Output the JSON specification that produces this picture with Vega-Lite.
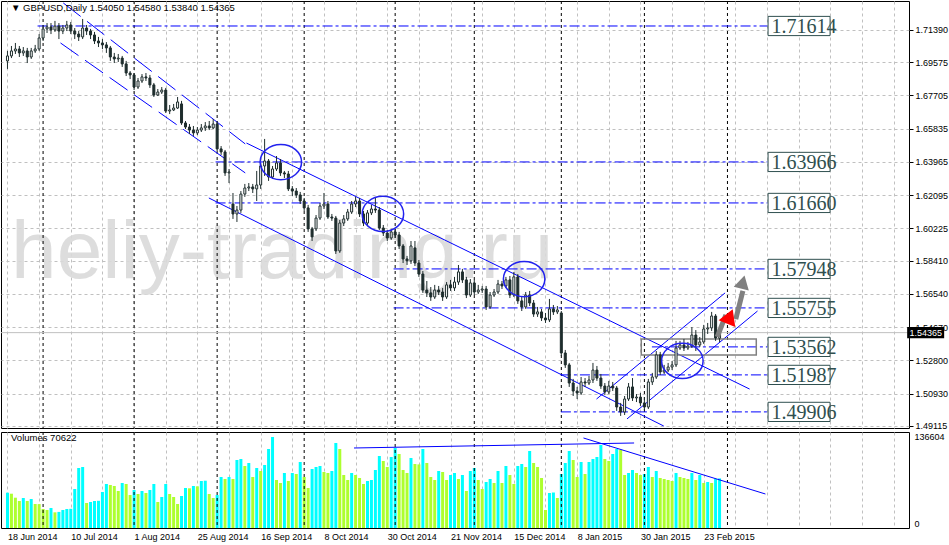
{
"$schema": "https://vega.github.io/schema/vega-lite/v6.json",
"padding": 0,
"background": "white",
"spacing": 4,
"bounds": "flush",
"config": {"view": {"stroke": "#000000", "strokeWidth": 1}, "font": "Liberation Sans", "axis": {"labelFont": "Liberation Sans"}},
"datasets": {
"ohlc": [
{"i":0,"o":1.6965,"h":1.7021,"l":1.6920,"c":1.6993},
{"i":1,"o":1.6993,"h":1.7049,"l":1.6981,"c":1.7021},
{"i":2,"o":1.7021,"h":1.7066,"l":1.7004,"c":1.7032},
{"i":3,"o":1.7032,"h":1.7049,"l":1.6987,"c":1.7010},
{"i":4,"o":1.7010,"h":1.7043,"l":1.6993,"c":1.7021},
{"i":5,"o":1.7021,"h":1.7038,"l":1.6953,"c":1.6987},
{"i":6,"o":1.6987,"h":1.7038,"l":1.6976,"c":1.7021},
{"i":7,"o":1.7021,"h":1.7055,"l":1.7010,"c":1.7032},
{"i":8,"o":1.7032,"h":1.7116,"l":1.7021,"c":1.7094},
{"i":9,"o":1.7094,"h":1.7167,"l":1.7077,"c":1.7145},
{"i":10,"o":1.7145,"h":1.7178,"l":1.7122,"c":1.7156},
{"i":11,"o":1.7156,"h":1.7178,"l":1.7116,"c":1.7139},
{"i":12,"o":1.7139,"h":1.7190,"l":1.7128,"c":1.7161},
{"i":13,"o":1.7161,"h":1.7178,"l":1.7088,"c":1.7133},
{"i":14,"o":1.7133,"h":1.7167,"l":1.7116,"c":1.7150},
{"i":15,"o":1.7150,"h":1.7190,"l":1.7133,"c":1.7167},
{"i":16,"o":1.7167,"h":1.7184,"l":1.7116,"c":1.7133},
{"i":17,"o":1.7133,"h":1.7150,"l":1.7088,"c":1.7116},
{"i":18,"o":1.7116,"h":1.7133,"l":1.7077,"c":1.7100},
{"i":19,"o":1.7100,"h":1.7201,"l":1.7088,"c":1.7150},
{"i":20,"o":1.7150,"h":1.7167,"l":1.7111,"c":1.7133},
{"i":21,"o":1.7133,"h":1.7145,"l":1.7088,"c":1.7111},
{"i":22,"o":1.7111,"h":1.7128,"l":1.7060,"c":1.7077},
{"i":23,"o":1.7077,"h":1.7100,"l":1.7043,"c":1.7066},
{"i":24,"o":1.7066,"h":1.7088,"l":1.7032,"c":1.7055},
{"i":25,"o":1.7055,"h":1.7071,"l":1.7010,"c":1.7038},
{"i":26,"o":1.7038,"h":1.7049,"l":1.6965,"c":1.6987},
{"i":27,"o":1.6987,"h":1.7010,"l":1.6953,"c":1.6976},
{"i":28,"o":1.6976,"h":1.7004,"l":1.6959,"c":1.6981},
{"i":29,"o":1.6981,"h":1.6993,"l":1.6931,"c":1.6948},
{"i":30,"o":1.6948,"h":1.6965,"l":1.6880,"c":1.6897},
{"i":31,"o":1.6897,"h":1.6908,"l":1.6863,"c":1.6886},
{"i":32,"o":1.6886,"h":1.6897,"l":1.6801,"c":1.6818},
{"i":33,"o":1.6818,"h":1.6869,"l":1.6807,"c":1.6852},
{"i":34,"o":1.6852,"h":1.6891,"l":1.6841,"c":1.6875},
{"i":35,"o":1.6875,"h":1.6897,"l":1.6852,"c":1.6869},
{"i":36,"o":1.6869,"h":1.6886,"l":1.6813,"c":1.6830},
{"i":37,"o":1.6830,"h":1.6841,"l":1.6762,"c":1.6773},
{"i":38,"o":1.6773,"h":1.6807,"l":1.6768,"c":1.6790},
{"i":39,"o":1.6790,"h":1.6818,"l":1.6779,"c":1.6801},
{"i":40,"o":1.6801,"h":1.6813,"l":1.6672,"c":1.6683},
{"i":41,"o":1.6683,"h":1.6717,"l":1.6666,"c":1.6689},
{"i":42,"o":1.6689,"h":1.6723,"l":1.6683,"c":1.6700},
{"i":43,"o":1.6700,"h":1.6762,"l":1.6695,"c":1.6734},
{"i":44,"o":1.6723,"h":1.6740,"l":1.6605,"c":1.6616},
{"i":45,"o":1.6616,"h":1.6627,"l":1.6582,"c":1.6593},
{"i":46,"o":1.6593,"h":1.6610,"l":1.6554,"c":1.6576},
{"i":47,"o":1.6576,"h":1.6599,"l":1.6543,"c":1.6560},
{"i":48,"o":1.6560,"h":1.6593,"l":1.6548,"c":1.6576},
{"i":49,"o":1.6576,"h":1.6610,"l":1.6565,"c":1.6588},
{"i":50,"o":1.6588,"h":1.6621,"l":1.6571,"c":1.6599},
{"i":51,"o":1.6599,"h":1.6627,"l":1.6576,"c":1.6588},
{"i":52,"o":1.6588,"h":1.6638,"l":1.6582,"c":1.6610},
{"i":53,"o":1.6610,"h":1.6627,"l":1.6458,"c":1.6470},
{"i":54,"o":1.6470,"h":1.6486,"l":1.6436,"c":1.6453},
{"i":55,"o":1.6453,"h":1.6464,"l":1.6318,"c":1.6335},
{"i":56,"o":1.6335,"h":1.6357,"l":1.6278,"c":1.6340},
{"i":57,"o":1.6160,"h":1.6222,"l":1.6076,"c":1.6104},
{"i":58,"o":1.6104,"h":1.6149,"l":1.6059,"c":1.6126},
{"i":59,"o":1.6126,"h":1.6233,"l":1.6110,"c":1.6216},
{"i":60,"o":1.6216,"h":1.6273,"l":1.6200,"c":1.6250},
{"i":61,"o":1.6250,"h":1.6278,"l":1.6233,"c":1.6256},
{"i":62,"o":1.6256,"h":1.6273,"l":1.6222,"c":1.6245},
{"i":63,"o":1.6245,"h":1.6346,"l":1.6177,"c":1.6267},
{"i":64,"o":1.6267,"h":1.6391,"l":1.6245,"c":1.6374},
{"i":65,"o":1.6374,"h":1.6526,"l":1.6318,"c":1.6402},
{"i":66,"o":1.6402,"h":1.6413,"l":1.6290,"c":1.6312},
{"i":67,"o":1.6312,"h":1.6374,"l":1.6301,"c":1.6357},
{"i":68,"o":1.6357,"h":1.6430,"l":1.6346,"c":1.6391},
{"i":69,"o":1.6391,"h":1.6413,"l":1.6318,"c":1.6335},
{"i":70,"o":1.6335,"h":1.6346,"l":1.6306,"c":1.6329},
{"i":71,"o":1.6329,"h":1.6346,"l":1.6233,"c":1.6245},
{"i":72,"o":1.6245,"h":1.6261,"l":1.6205,"c":1.6233},
{"i":73,"o":1.6233,"h":1.6250,"l":1.6194,"c":1.6211},
{"i":74,"o":1.6211,"h":1.6228,"l":1.6160,"c":1.6177},
{"i":75,"o":1.6177,"h":1.6194,"l":1.6121,"c":1.6138},
{"i":76,"o":1.6138,"h":1.6155,"l":1.6003,"c":1.6020},
{"i":77,"o":1.6020,"h":1.6031,"l":1.5952,"c":1.5975},
{"i":78,"o":1.6020,"h":1.6098,"l":1.6008,"c":1.6081},
{"i":79,"o":1.6081,"h":1.6166,"l":1.6070,"c":1.6149},
{"i":80,"o":1.6149,"h":1.6222,"l":1.6132,"c":1.6160},
{"i":81,"o":1.6160,"h":1.6177,"l":1.6076,"c":1.6087},
{"i":82,"o":1.6087,"h":1.6104,"l":1.6065,"c":1.6081},
{"i":83,"o":1.6081,"h":1.6093,"l":1.5879,"c":1.5896},
{"i":84,"o":1.5896,"h":1.6070,"l":1.5885,"c":1.6053},
{"i":85,"o":1.6053,"h":1.6098,"l":1.6036,"c":1.6076},
{"i":86,"o":1.6076,"h":1.6132,"l":1.6065,"c":1.6115},
{"i":87,"o":1.6115,"h":1.6177,"l":1.6104,"c":1.6160},
{"i":88,"o":1.6160,"h":1.6200,"l":1.6143,"c":1.6177},
{"i":89,"o":1.6177,"h":1.6194,"l":1.6087,"c":1.6104},
{"i":90,"o":1.6104,"h":1.6121,"l":1.6036,"c":1.6053},
{"i":91,"o":1.6053,"h":1.6126,"l":1.6042,"c":1.6110},
{"i":92,"o":1.6110,"h":1.6155,"l":1.6098,"c":1.6132},
{"i":93,"o":1.6132,"h":1.6194,"l":1.6110,"c":1.6126},
{"i":94,"o":1.6126,"h":1.6143,"l":1.6014,"c":1.6025},
{"i":95,"o":1.6025,"h":1.6042,"l":1.5980,"c":1.5997},
{"i":96,"o":1.5997,"h":1.6014,"l":1.5952,"c":1.5969},
{"i":97,"o":1.5969,"h":1.6020,"l":1.5958,"c":1.6003},
{"i":98,"o":1.6003,"h":1.6020,"l":1.5969,"c":1.5986},
{"i":99,"o":1.5986,"h":1.6003,"l":1.5907,"c":1.5924},
{"i":100,"o":1.5924,"h":1.5935,"l":1.5828,"c":1.5851},
{"i":101,"o":1.5851,"h":1.5868,"l":1.5817,"c":1.5840},
{"i":102,"o":1.5840,"h":1.5952,"l":1.5823,"c":1.5924},
{"i":103,"o":1.5913,"h":1.5952,"l":1.5811,"c":1.5828},
{"i":104,"o":1.5828,"h":1.5845,"l":1.5750,"c":1.5766},
{"i":105,"o":1.5766,"h":1.5783,"l":1.5660,"c":1.5676},
{"i":106,"o":1.5676,"h":1.5727,"l":1.5637,"c":1.5660},
{"i":107,"o":1.5660,"h":1.5693,"l":1.5615,"c":1.5637},
{"i":108,"o":1.5637,"h":1.5705,"l":1.5626,"c":1.5676},
{"i":109,"o":1.5676,"h":1.5699,"l":1.5648,"c":1.5665},
{"i":110,"o":1.5665,"h":1.5688,"l":1.5615,"c":1.5637},
{"i":111,"o":1.5637,"h":1.5721,"l":1.5626,"c":1.5705},
{"i":112,"o":1.5705,"h":1.5733,"l":1.5671,"c":1.5688},
{"i":113,"o":1.5688,"h":1.5750,"l":1.5671,"c":1.5721},
{"i":114,"o":1.5721,"h":1.5817,"l":1.5705,"c":1.5778},
{"i":115,"o":1.5778,"h":1.5795,"l":1.5716,"c":1.5733},
{"i":116,"o":1.5733,"h":1.5750,"l":1.5631,"c":1.5648},
{"i":117,"o":1.5648,"h":1.5738,"l":1.5637,"c":1.5716},
{"i":118,"o":1.5716,"h":1.5733,"l":1.5648,"c":1.5665},
{"i":119,"o":1.5665,"h":1.5705,"l":1.5654,"c":1.5676},
{"i":120,"o":1.5676,"h":1.5699,"l":1.5660,"c":1.5682},
{"i":121,"o":1.5682,"h":1.5699,"l":1.5564,"c":1.5581},
{"i":122,"o":1.5581,"h":1.5665,"l":1.5570,"c":1.5648},
{"i":123,"o":1.5648,"h":1.5682,"l":1.5637,"c":1.5665},
{"i":124,"o":1.5665,"h":1.5733,"l":1.5654,"c":1.5710},
{"i":125,"o":1.5710,"h":1.5727,"l":1.5682,"c":1.5699},
{"i":126,"o":1.5699,"h":1.5750,"l":1.5688,"c":1.5733},
{"i":127,"o":1.5733,"h":1.5755,"l":1.5631,"c":1.5648},
{"i":128,"o":1.5648,"h":1.5778,"l":1.5637,"c":1.5750},
{"i":129,"o":1.5750,"h":1.5766,"l":1.5598,"c":1.5615},
{"i":130,"o":1.5615,"h":1.5637,"l":1.5558,"c":1.5581},
{"i":131,"o":1.5581,"h":1.5665,"l":1.5570,"c":1.5648},
{"i":132,"o":1.5648,"h":1.5671,"l":1.5586,"c":1.5603},
{"i":133,"o":1.5603,"h":1.5620,"l":1.5525,"c":1.5541},
{"i":134,"o":1.5541,"h":1.5581,"l":1.5525,"c":1.5553},
{"i":135,"o":1.5553,"h":1.5570,"l":1.5502,"c":1.5519},
{"i":136,"o":1.5519,"h":1.5547,"l":1.5491,"c":1.5508},
{"i":137,"o":1.5508,"h":1.5626,"l":1.5496,"c":1.5570},
{"i":138,"o":1.5570,"h":1.5592,"l":1.5536,"c":1.5553},
{"i":139,"o":1.5553,"h":1.5586,"l":1.5541,"c":1.5564},
{"i":140,"o":1.5547,"h":1.5558,"l":1.5305,"c":1.5322},
{"i":141,"o":1.5322,"h":1.5339,"l":1.5238,"c":1.5255},
{"i":142,"o":1.5255,"h":1.5266,"l":1.5131,"c":1.5153},
{"i":143,"o":1.5153,"h":1.5176,"l":1.5080,"c":1.5108},
{"i":144,"o":1.5108,"h":1.5131,"l":1.5063,"c":1.5097},
{"i":145,"o":1.5097,"h":1.5187,"l":1.5086,"c":1.5159},
{"i":146,"o":1.5159,"h":1.5181,"l":1.5131,"c":1.5153},
{"i":147,"o":1.5153,"h":1.5193,"l":1.5142,"c":1.5170},
{"i":148,"o":1.5170,"h":1.5266,"l":1.5153,"c":1.5226},
{"i":149,"o":1.5226,"h":1.5249,"l":1.5165,"c":1.5181},
{"i":150,"o":1.5181,"h":1.5204,"l":1.5120,"c":1.5136},
{"i":151,"o":1.5136,"h":1.5153,"l":1.5086,"c":1.5103},
{"i":152,"o":1.5103,"h":1.5165,"l":1.5091,"c":1.5136},
{"i":153,"o":1.5136,"h":1.5159,"l":1.5108,"c":1.5125},
{"i":154,"o":1.5125,"h":1.5136,"l":1.4996,"c":1.5018},
{"i":155,"o":1.5018,"h":1.5041,"l":1.4968,"c":1.4990},
{"i":156,"o":1.4990,"h":1.5080,"l":1.4973,"c":1.5063},
{"i":157,"o":1.5063,"h":1.5153,"l":1.5052,"c":1.5131},
{"i":158,"o":1.5131,"h":1.5181,"l":1.5052,"c":1.5069},
{"i":159,"o":1.5069,"h":1.5091,"l":1.5046,"c":1.5074},
{"i":160,"o":1.5074,"h":1.5097,"l":1.5024,"c":1.5041},
{"i":161,"o":1.5041,"h":1.5074,"l":1.5001,"c":1.5018},
{"i":162,"o":1.5018,"h":1.5176,"l":1.5007,"c":1.5159},
{"i":163,"o":1.5159,"h":1.5210,"l":1.5142,"c":1.5187},
{"i":164,"o":1.5187,"h":1.5333,"l":1.5176,"c":1.5311},
{"i":165,"o":1.5311,"h":1.5328,"l":1.5198,"c":1.5215},
{"i":166,"o":1.5215,"h":1.5255,"l":1.5204,"c":1.5226},
{"i":167,"o":1.5226,"h":1.5266,"l":1.5215,"c":1.5243},
{"i":168,"o":1.5243,"h":1.5277,"l":1.5226,"c":1.5255},
{"i":169,"o":1.5255,"h":1.5390,"l":1.5243,"c":1.5350},
{"i":170,"o":1.5350,"h":1.5390,"l":1.5339,"c":1.5367},
{"i":171,"o":1.5367,"h":1.5401,"l":1.5333,"c":1.5350},
{"i":172,"o":1.5350,"h":1.5384,"l":1.5339,"c":1.5361},
{"i":173,"o":1.5361,"h":1.5468,"l":1.5350,"c":1.5423},
{"i":174,"o":1.5423,"h":1.5451,"l":1.5333,"c":1.5367},
{"i":175,"o":1.5367,"h":1.5412,"l":1.5356,"c":1.5384},
{"i":176,"o":1.5384,"h":1.5480,"l":1.5373,"c":1.5457},
{"i":177,"o":1.5457,"h":1.5491,"l":1.5429,"c":1.5463},
{"i":178,"o":1.5463,"h":1.5553,"l":1.5446,"c":1.5530},
{"i":179,"o":1.5530,"h":1.5541,"l":1.5390,"c":1.5406},
{"i":180,"o":1.5405,"h":1.5458,"l":1.5384,"c":1.54365}
],
"vol": [
{"i":0,"v":50232},{"i":1,"v":48809},{"i":2,"v":43117},{"i":3,"v":38421},{"i":4,"v":42690},{"i":5,"v":38421},{"i":6,"v":41267},{"i":7,"v":34152},{"i":8,"v":34000},{"i":9,"v":27037},
{"i":10,"v":25614},{"i":11,"v":28460},{"i":12,"v":22300},{"i":13,"v":22900},{"i":14,"v":25614},{"i":15,"v":27037},{"i":16,"v":27300},{"i":17,"v":55497},{"i":18,"v":85380},{"i":19,"v":86803},
{"i":20,"v":35575},{"i":21,"v":36998},{"i":22,"v":38421},{"i":23,"v":38700},{"i":24,"v":51228},{"i":25,"v":62612},{"i":26,"v":61189},{"i":27,"v":59766},{"i":28,"v":52651},{"i":29,"v":64035},
{"i":30,"v":62612},{"i":31,"v":46959},{"i":32,"v":54074},{"i":33,"v":48382},{"i":34,"v":52651},{"i":35,"v":49805},{"i":36,"v":54074},{"i":37,"v":62612},{"i":38,"v":36998},{"i":39,"v":44113},
{"i":40,"v":62612},{"i":41,"v":48382},{"i":42,"v":44113},{"i":43,"v":34152},{"i":44,"v":45536},{"i":45,"v":56920},{"i":46,"v":56500},{"i":47,"v":59766},{"i":48,"v":59300},{"i":49,"v":66881},
{"i":50,"v":67300},{"i":51,"v":48382},{"i":52,"v":42690},{"i":53,"v":46959},{"i":54,"v":72573},{"i":55,"v":69727},{"i":56,"v":72573},{"i":57,"v":69727},{"i":58,"v":96764},{"i":59,"v":98187},
{"i":60,"v":88226},{"i":61,"v":92495},{"i":62,"v":72573},{"i":63,"v":85380},{"i":64,"v":81111},{"i":65,"v":89649},{"i":66,"v":112417},{"i":67,"v":129493},{"i":68,"v":68304},{"i":69,"v":64035},
{"i":70,"v":78265},{"i":71,"v":66881},{"i":72,"v":78265},{"i":73,"v":76842},{"i":74,"v":93918},{"i":75,"v":72573},{"i":76,"v":56920},{"i":77,"v":83957},{"i":78,"v":86803},{"i":79,"v":88226},
{"i":80,"v":79688},{"i":81,"v":78265},{"i":82,"v":81111},{"i":83,"v":120955},{"i":84,"v":112417},{"i":85,"v":75419},{"i":86,"v":68304},{"i":87,"v":78265},{"i":88,"v":75419},{"i":89,"v":71150},
{"i":90,"v":62612},{"i":91,"v":66881},{"i":92,"v":68304},{"i":93,"v":82534},{"i":94,"v":102456},{"i":95,"v":95341},{"i":96,"v":86803},{"i":97,"v":101033},{"i":98,"v":113840},{"i":99,"v":105302},
{"i":100,"v":82534},{"i":101,"v":78265},{"i":102,"v":99610},{"i":103,"v":91072},{"i":104,"v":90500},{"i":105,"v":112417},{"i":106,"v":92495},{"i":107,"v":72573},{"i":108,"v":68304},{"i":109,"v":81111},
{"i":110,"v":79688},{"i":111,"v":68304},{"i":112,"v":75419},{"i":113,"v":78265},{"i":114,"v":69727},{"i":115,"v":75419},{"i":116,"v":52651},{"i":117,"v":81111},{"i":118,"v":85380},{"i":119,"v":68304},
{"i":120,"v":55497},{"i":121,"v":65458},{"i":122,"v":69727},{"i":123,"v":64035},{"i":124,"v":81111},{"i":125,"v":64035},{"i":126,"v":88226},{"i":127,"v":75419},{"i":128,"v":62612},{"i":129,"v":88226},
{"i":130,"v":91072},{"i":131,"v":86803},{"i":132,"v":109571},{"i":133,"v":92495},{"i":134,"v":86803},{"i":135,"v":71150},{"i":136,"v":25614},{"i":137,"v":49805},{"i":138,"v":50500},{"i":139,"v":42690},
{"i":140,"v":76842},{"i":141,"v":92495},{"i":142,"v":109571},{"i":143,"v":96764},{"i":144,"v":72573},{"i":145,"v":93918},{"i":146,"v":76842},{"i":147,"v":93918},{"i":148,"v":98187},{"i":149,"v":101033},
{"i":150,"v":118109},{"i":151,"v":98187},{"i":152,"v":95341},{"i":153,"v":105302},{"i":154,"v":112417},{"i":155,"v":110994},{"i":156,"v":75419},{"i":157,"v":78265},{"i":158,"v":82534},{"i":159,"v":78265},
{"i":160,"v":75419},{"i":161,"v":76842},{"i":162,"v":86803},{"i":163,"v":72573},{"i":164,"v":81111},{"i":165,"v":71150},{"i":166,"v":69727},{"i":167,"v":68304},{"i":168,"v":66881},{"i":169,"v":78265},
{"i":170,"v":72573},{"i":171,"v":71150},{"i":172,"v":69727},{"i":173,"v":78265},{"i":174,"v":68304},{"i":175,"v":75419},{"i":176,"v":64035},{"i":177,"v":65458},{"i":178,"v":64035},{"i":179,"v":69727},
{"i":180,"v":70622}
],
"months": [{"i":9},{"i":32},{"i":53},{"i":75},{"i":98},{"i":118},{"i":140},{"i":161},{"i":182}],
"levels": [
{"p":1.71614,"start":7.6,"end":192.1,"lx":193.1,"bx":200.1,"label":"1.71614"},
{"p":1.63966,"start":52.6,"end":192.1,"lx":193.1,"bx":200.1,"label":"1.63966"},
{"p":1.61660,"start":52.6,"end":192.1,"lx":193.1,"bx":200.1,"label":"1.61660"},
{"p":1.57948,"start":97.6,"end":192.1,"lx":193.1,"bx":200.1,"label":"1.57948"},
{"p":1.55755,"start":97.6,"end":192.1,"lx":193.1,"bx":200.1,"label":"1.55755"},
{"p":1.53562,"start":162.9,"end":192.1,"lx":193.1,"bx":200.1,"label":"1.53562"},
{"p":1.51987,"start":139.9,"end":192.1,"lx":193.1,"bx":200.1,"label":"1.51987"},
{"p":1.49906,"start":139.9,"end":192.1,"lx":193.1,"bx":200.1,"label":"1.49906"}
],
"trendsDashed": [
{"i":14.1,"p":1.7291,"i2":60.1,"p2":1.6498},
{"i":13.4,"p":1.7066,"i2":60.1,"p2":1.6335}
],
"trends": [
{"i":60.4,"p":1.6503,"i2":187.6,"p2":1.5119},
{"i":50.9,"p":1.6194,"i2":165.9,"p2":1.4911},
{"i":148.9,"p":1.5063,"i2":181.4,"p2":1.5660},
{"i":156.6,"p":1.4951,"i2":189.6,"p2":1.5558}
],
"ellipses": [{"i":69.1,"p":1.6396},{"i":94.9,"p":1.6104},{"i":130.6,"p":1.5738},{"i":170.6,"p":1.5277}],
"zone": [{"i":174.75,"p":1.5356}],
"shafts": [{"i":179.4,"p":1.5412,"i2":181.6,"p2":1.5536},{"i":184.1,"p":1.5513,"i2":185.9,"p2":1.5671}],
"grayHead": [{"i":185.9,"p":1.5721}],
"redHead": [{"i":182.6,"p":1.5527}],
"bid": [{"p":1.54365,"i":232.1,"label":"1.54365"}],
"title": [{"i":0.9,"p":1.7260,"label":"▼  GBPUSD,Daily  1.54050 1.54580 1.53840 1.54365"}],
"watermark": [{"i":0.9,"p":1.5744,"label":"heliy-trading.ru"}],
"vtrends": [{"i":87.6,"v":113837,"i2":158.4,"v2":120955},{"i":145.6,"v":128067,"i2":191.6,"v2":48382}],
"vnote": [{"i":0.9,"v":128070,"label":"Volumes 70622"}]
},
"vconcat": [
{
"width": 908, "height": 427,
"layer": [
{"data": {"name": "watermark"},
 "mark": {"type": "text", "align": "left", "baseline": "alphabetic", "fontSize": 82, "font": "Liberation Sans", "color": "#dadada", "opacity": 0.9},
 "encoding": {
  "x": {"field": "i", "type": "quantitative", "title": null, "scale": {"domain": [-0.375, 226.625], "nice": false, "zero": false},
   "axis": {"orient": "bottom", "tickCount": 60, "values": [0,8,16,24,32,40,48,56,64,72,80,88,96,104,112,120,128,136,144,152,160,168,176,184,192,200,208,216,224], "labels": false, "ticks": false, "domain": false, "grid": true, "gridColor": "#c0c0c0", "gridDash": [3,3], "title": null}},
  "y": {"field": "p", "type": "quantitative", "title": null, "scale": {"domain": [1.49, 1.7302], "nice": false, "zero": false},
   "axis": {"orient": "right", "tickCount": 40, "values": [1.49115,1.5093,1.528,1.5467,1.5654,1.5841,1.60225,1.62095,1.63965,1.65835,1.67705,1.69575,1.7139], "format": ".5f", "grid": true, "gridColor": "#c0c0c0", "gridDash": [3,3], "domain": false, "ticks": true, "tickSize": 4, "tickColor": "#000000", "labelFontSize": 9, "labelColor": "#000000", "labelPadding": 2, "labelOverlap": false, "title": null}},
  "text": {"field": "label"}}},
{"data": {"name": "months"},
 "mark": {"type": "rule", "color": "#000000", "strokeDash": [3,3], "strokeWidth": 1},
 "encoding": {"x": {"field": "i", "type": "quantitative", "title": null, "scale": {"domain": [-0.375, 226.625], "nice": false, "zero": false}}}},
{"data": {"name": "bid"},
 "mark": {"type": "rule", "color": "#c0c0c0", "strokeWidth": 1},
 "encoding": {"y": {"field": "p", "type": "quantitative", "title": null}}},
{"data": {"name": "levels"},
 "mark": {"type": "rule", "color": "#0000ff", "strokeDash": [10,3,3,3], "strokeWidth": 1},
 "encoding": {"x": {"field": "start", "type": "quantitative", "title": null}, "x2": {"field": "end"}, "y": {"field": "p", "type": "quantitative", "title": null}}},
{"data": {"name": "trendsDashed"},
 "mark": {"type": "rule", "color": "#0000ff", "strokeDash": [22,8], "strokeWidth": 1},
 "encoding": {"x": {"field": "i", "type": "quantitative", "title": null}, "x2": {"field": "i2"}, "y": {"field": "p", "type": "quantitative", "title": null}, "y2": {"field": "p2"}}},
{"data": {"name": "trends"},
 "mark": {"type": "rule", "color": "#0000ff", "strokeWidth": 1},
 "encoding": {"x": {"field": "i", "type": "quantitative", "title": null}, "x2": {"field": "i2"}, "y": {"field": "p", "type": "quantitative", "title": null}, "y2": {"field": "p2"}}},
{"data": {"name": "zone"},
 "mark": {"type": "point", "shape": "M-1,-0.139L1,-0.139L1,0.139L-1,0.139Z", "size": 13225, "filled": false, "stroke": "#808080", "strokeWidth": 1.5, "opacity": 1},
 "encoding": {"x": {"field": "i", "type": "quantitative", "title": null}, "y": {"field": "p", "type": "quantitative", "title": null}}},
{"data": {"name": "ohlc"},
 "mark": {"type": "rule", "color": "#1e2d2d", "strokeWidth": 1},
 "encoding": {"x": {"field": "i", "type": "quantitative", "title": null}, "y": {"field": "l", "type": "quantitative", "title": null}, "y2": {"field": "h"}}},
{"data": {"name": "ohlc"},
 "mark": {"type": "bar", "width": 2, "stroke": "#1e2d2d", "strokeWidth": 1},
 "encoding": {"x": {"field": "i", "type": "quantitative", "title": null}, "y": {"field": "o", "type": "quantitative", "title": null}, "y2": {"field": "c"},
  "fill": {"condition": {"test": "datum.c >= datum.o", "value": "#ffffff"}, "value": "#1e2d2d"}}},
{"data": {"name": "ellipses"},
 "mark": {"type": "point", "shape": "M-1,0A1,0.85,0,1,1,1,0A1,0.85,0,1,1,-1,0Z", "size": 1720, "filled": false, "stroke": "#2222ee", "strokeWidth": 1.5, "opacity": 1},
 "encoding": {"x": {"field": "i", "type": "quantitative", "title": null}, "y": {"field": "p", "type": "quantitative", "title": null}}},
{"data": {"name": "shafts"},
 "mark": {"type": "rule", "color": "#808080", "strokeWidth": 5, "strokeCap": "butt"},
 "encoding": {"x": {"field": "i", "type": "quantitative", "title": null}, "x2": {"field": "i2"}, "y": {"field": "p", "type": "quantitative", "title": null}, "y2": {"field": "p2"}}},
{"data": {"name": "grayHead"},
 "mark": {"type": "point", "shape": "triangle-up", "size": 240, "filled": true, "color": "#808080", "angle": 14, "opacity": 1},
 "encoding": {"x": {"field": "i", "type": "quantitative", "title": null}, "y": {"field": "p", "type": "quantitative", "title": null}}},
{"data": {"name": "redHead"},
 "mark": {"type": "point", "shape": "triangle-up", "size": 320, "filled": true, "color": "#ff0000", "angle": 22, "opacity": 1},
 "encoding": {"x": {"field": "i", "type": "quantitative", "title": null}, "y": {"field": "p", "type": "quantitative", "title": null}}},
{"data": {"name": "levels"},
 "mark": {"type": "point", "shape": "M-1,-0.31L1,-0.31L1,0.31L-1,0.31Z", "size": 3844, "filled": true, "fill": "#ffffff", "stroke": "#2f4f4f", "strokeWidth": 1, "opacity": 1},
 "encoding": {"x": {"field": "bx", "type": "quantitative", "title": null}, "y": {"field": "p", "type": "quantitative", "title": null}}},
{"data": {"name": "levels"},
 "mark": {"type": "text", "align": "left", "baseline": "middle", "font": "Liberation Sans Narrow", "fontSize": 20, "color": "#2f4f4f", "dy": 1},
 "encoding": {"x": {"field": "lx", "type": "quantitative", "title": null}, "y": {"field": "p", "type": "quantitative", "title": null}, "text": {"field": "label"}}},
{"data": {"name": "bid"},
 "mark": {"type": "point", "shape": "M-1,-0.3L1,-0.3L1,0.3L-1,0.3Z", "size": 1369, "filled": true, "color": "#000000", "opacity": 1},
 "encoding": {"x": {"field": "i", "type": "quantitative", "title": null}, "y": {"field": "p", "type": "quantitative", "title": null}}},
{"data": {"name": "bid"},
 "mark": {"type": "text", "align": "center", "baseline": "middle", "fontSize": 9, "color": "#ffffff"},
 "encoding": {"x": {"field": "i", "type": "quantitative", "title": null}, "y": {"field": "p", "type": "quantitative", "title": null}, "text": {"field": "label"}}},
{"data": {"name": "title"},
 "mark": {"type": "text", "align": "left", "baseline": "middle", "fontSize": 9.5, "color": "#000000"},
 "encoding": {"x": {"field": "i", "type": "quantitative", "title": null}, "y": {"field": "p", "type": "quantitative", "title": null}, "text": {"field": "label"}}}
]
},
{
"width": 908, "height": 96,
"layer": [
{"data": {"name": "vol"},
 "transform": [
  {"window": [{"op": "lag", "field": "v", "as": "pv"}], "sort": [{"field": "i"}]},
  {"calculate": "datum.pv == null || datum.v > datum.pv ? 'up' : 'down'", "as": "dir"}
 ],
 "mark": {"type": "bar", "width": 3},
 "encoding": {
  "x": {"field": "i", "type": "quantitative", "title": null, "scale": {"domain": [-0.375, 226.625], "nice": false, "zero": false},
   "axis": {"orient": "bottom", "tickCount": 60, "values": [0,8,16,24,32,40,48,56,64,72,80,88,96,104,112,120,128,136,144,152,160,168,176,184,192,200,208,216,224],
    "labelExpr": "datum.value % 16 == 0 && datum.value <= 176 ? ['18 Jun 2014','10 Jul 2014','1 Aug 2014','25 Aug 2014','16 Sep 2014','8 Oct 2014','30 Oct 2014','21 Nov 2014','15 Dec 2014','8 Jan 2015','30 Jan 2015','23 Feb 2015'][datum.value / 16] : ''",
    "labelAlign": "left", "labelFontSize": 9, "labelColor": "#000000", "labelPadding": 4, "ticks": false, "domain": false, "grid": true, "gridColor": "#c0c0c0", "gridDash": [3,3], "labelOverlap": false, "labelFlush": false, "title": null}},
  "y": {"field": "v", "type": "quantitative", "title": null, "scale": {"domain": [0, 136604], "nice": false},
   "axis": {"orient": "right", "tickCount": 10, "values": [0, 136604], "format": "d", "labelFlush": true, "ticks": false, "domain": false, "grid": false, "labelFontSize": 9, "labelColor": "#000000", "labelPadding": 5, "title": null}},
  "color": {"field": "dir", "type": "nominal", "scale": {"domain": ["up", "down"], "range": ["#00ffff", "#adff2f"]}, "legend": null}}},
{"data": {"name": "months"},
 "mark": {"type": "rule", "color": "#000000", "strokeDash": [3,3], "strokeWidth": 1},
 "encoding": {"x": {"field": "i", "type": "quantitative", "title": null}}},
{"data": {"name": "vtrends"},
 "mark": {"type": "rule", "color": "#0000ff", "strokeWidth": 1},
 "encoding": {"x": {"field": "i", "type": "quantitative", "title": null}, "x2": {"field": "i2"}, "y": {"field": "v", "type": "quantitative", "title": null}, "y2": {"field": "v2"}}},
{"data": {"name": "vnote"},
 "mark": {"type": "text", "align": "left", "baseline": "middle", "fontSize": 9.5, "color": "#000000"},
 "encoding": {"x": {"field": "i", "type": "quantitative", "title": null}, "y": {"field": "v", "type": "quantitative", "title": null}, "text": {"field": "label"}}}
]
}
]
}
